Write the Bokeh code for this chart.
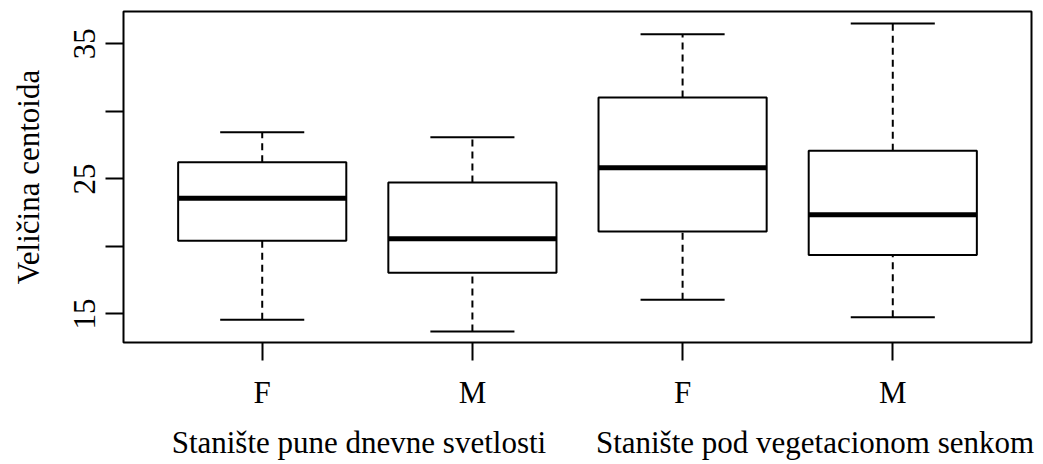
from bokeh.plotting import figure
from bokeh.models import (ColumnDataSource, Range1d, LinearAxis, FixedTicker)
from bokeh.embed import file_html
from bokeh.resources import INLINE

# ---- data ----
habitats = ["Stanište pune dnevne svetlosti", "Stanište pod vegetacionom senkom"]
sex = ["F", "M", "F", "M"]
lower_whisker = [14.57, 13.71, 16.05, 14.76]
q1 = [20.42, 18.06, 21.11, 19.37]
median = [23.57, 20.57, 25.83, 22.34]
q3 = [26.23, 24.73, 31.03, 27.09]
upper_whisker = [28.45, 28.08, 35.70, 36.51]
y_ticks = [15, 20, 25, 30, 35]
y_labels = ["15", "", "25", "", "35"]

FONT = "Liberation Serif"
FS = "31px"
BOXW = 0.8
CAPW = 0.4

xpos = [i + 1 for i in range(len(sex))]
src = ColumnDataSource(dict(
    x=xpos,
    xl=[x - BOXW / 2 for x in xpos], xr=[x + BOXW / 2 for x in xpos],
    cl=[x - CAPW / 2 for x in xpos], cr=[x + CAPW / 2 for x in xpos],
    lw=lower_whisker, q1=q1, med=median, q3=q3, uw=upper_whisker,
))

p = figure(width=1043, height=464, output_backend="svg", toolbar_location=None,
           x_range=Range1d(0.34, 4.66), y_range=Range1d(12.89, 37.39),
           x_axis_type=None, y_axis_type=None,
           min_border_left=123, min_border_right=12, min_border_top=11, min_border_bottom=122)
p.background_fill_color = "white"
p.border_fill_color = "white"
p.xgrid.visible = False
p.ygrid.visible = False
p.outline_line_color = "black"
p.outline_line_width = 2

# whiskers
p.segment(x0="x", y0="q3", x1="x", y1="uw", source=src, line_color="black",
          line_width=2, line_dash="7 5")
p.segment(x0="x", y0="lw", x1="x", y1="q1", source=src, line_color="black",
          line_width=2, line_dash="7 5")
# caps
p.segment(x0="cl", y0="uw", x1="cr", y1="uw", source=src, line_color="black", line_width=2)
p.segment(x0="cl", y0="lw", x1="cr", y1="lw", source=src, line_color="black", line_width=2)
# boxes
p.quad(left="xl", right="xr", bottom="q1", top="q3", source=src,
       fill_color="white", line_color="black", line_width=2)
# medians
p.segment(x0="xl", y0="med", x1="xr", y1="med", source=src, line_color="black",
          line_width=5, line_cap="butt")

def style_axis(ax):
    ax.axis_line_color = None
    ax.major_tick_line_color = "black"
    ax.major_tick_line_width = 2
    ax.major_tick_in = 0
    ax.major_tick_out = 18
    ax.minor_tick_line_color = None
    ax.major_label_text_font = FONT
    ax.major_label_text_font_size = FS
    ax.major_label_text_color = "black"
    ax.axis_label_text_font = FONT
    ax.axis_label_text_font_size = FS
    ax.axis_label_text_font_style = "normal"
    ax.axis_label_text_color = "black"

# y axis
yax = LinearAxis(ticker=FixedTicker(ticks=y_ticks),
                 major_label_overrides={t: l for t, l in zip(y_ticks, y_labels)},
                 axis_label="Veličina centoida")
style_axis(yax)
yax.major_label_orientation = "parallel"
yax.major_label_standoff = 10
yax.axis_label_standoff = 26
p.add_layout(yax, "left")

# x axis (sex)
xax = LinearAxis(ticker=FixedTicker(ticks=xpos),
                 major_label_overrides={x: s for x, s in zip(xpos, sex)})
style_axis(xax)
xax.major_label_standoff = 14
p.add_layout(xax, "below")

# x axis (habitat groups)
group_pos = [1.46, 3.63]
gax = LinearAxis(ticker=FixedTicker(ticks=group_pos),
                 major_label_overrides={g: h for g, h in zip(group_pos, habitats)})
style_axis(gax)
gax.major_tick_line_color = None
gax.major_tick_out = 0
gax.major_label_standoff = 12
p.add_layout(gax, "below")

open("out.html", "w").write(file_html(p, INLINE))
